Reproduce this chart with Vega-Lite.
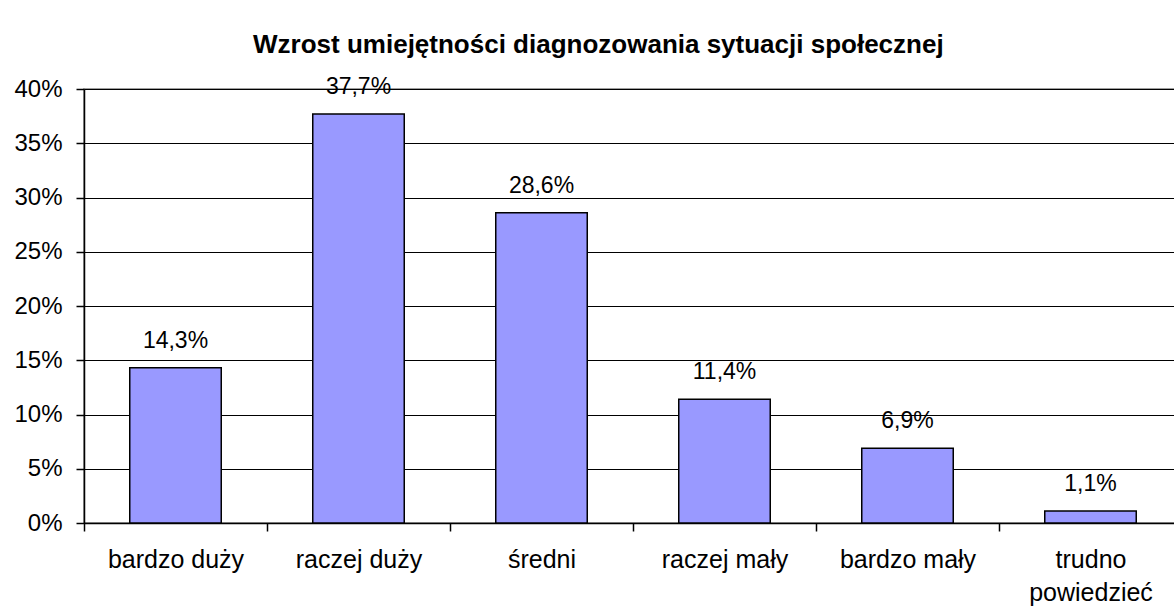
{
  "$schema": "https://vega.github.io/schema/vega-lite/v6.json",
  "width": 1098,
  "height": 434,
  "autosize": {"type": "none"},
  "padding": {"left": 84, "top": 89, "right": 0, "bottom": 91},
  "background": "white",
  "title": {
    "text": "Wzrost umiejętności diagnozowania sytuacji społecznej",
    "font": "Liberation Sans",
    "fontSize": 26,
    "fontWeight": "bold",
    "color": "black",
    "anchor": "middle",
    "frame": "bounds",
    "baseline": "alphabetic",
    "offset": -3
  },
  "data": {
    "values": [
      {"category": "bardzo duży", "value": 14.3},
      {"category": "raczej duży", "value": 37.7},
      {"category": "średni", "value": 28.6},
      {"category": "raczej mały", "value": 11.4},
      {"category": "bardzo mały", "value": 6.9},
      {"category": "trudno powiedzieć", "value": 1.1}
    ]
  },
  "transform": [
    {"calculate": "replace(format(datum.value, '.1f'), '.', ',') + '%'", "as": "label"}
  ],
  "config": {
    "view": {"stroke": "#808080", "strokeWidth": 1.5},
    "font": "Liberation Sans"
  },
  "encoding": {
    "x": {
      "field": "category",
      "type": "nominal",
      "sort": null,
      "scale": {"paddingInner": 0, "paddingOuter": 0},
      "axis": {
        "title": null,
        "labelAngle": 0,
        "tickBand": "extent",
        "tickSize": 8,
        "tickColor": "black",
        "tickWidth": 1.5,
        "domainColor": "black",
        "domainWidth": 1.5,
        "labelPadding": 16,
        "labelFont": "Liberation Sans",
        "labelFontSize": 25,
        "labelColor": "black",
        "labelLineHeight": 33,
        "labelExpr": "datum.label == 'trudno powiedzieć' ? ['trudno', 'powiedzieć'] : datum.label",
        "grid": false
      }
    },
    "y": {
      "field": "value",
      "type": "quantitative",
      "scale": {"domain": [0, 40], "nice": false},
      "axis": {
        "title": null,
        "values": [0, 5, 10, 15, 20, 25, 30, 35, 40],
        "labelExpr": "datum.value + '%'",
        "tickSize": 8,
        "tickColor": "black",
        "tickWidth": 1.5,
        "domainColor": "black",
        "domainWidth": 1.5,
        "gridColor": "black",
        "gridWidth": 1.2,
        "gridOpacity": 1,
        "labelPadding": 14,
        "labelFont": "Liberation Sans",
        "labelFontSize": 24,
        "labelColor": "black"
      }
    }
  },
  "layer": [
    {
      "mark": {"type": "bar", "fill": "#9999FF", "stroke": "black", "strokeWidth": 1.5, "width": {"band": 0.5}}
    },
    {
      "mark": {"type": "text", "baseline": "alphabetic", "dy": -20, "font": "Liberation Sans", "fontSize": 23, "color": "black"},
      "encoding": {"text": {"field": "label"}}
    }
  ]
}
